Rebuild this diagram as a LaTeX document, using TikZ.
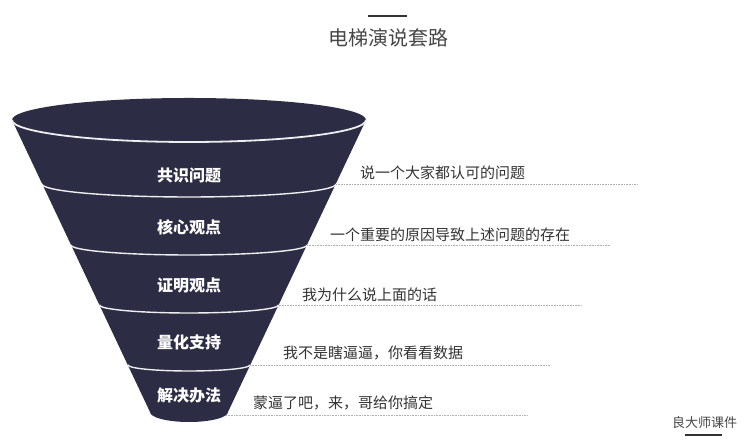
\documentclass[tikz,border=0pt]{standalone}
\usepackage{fontspec}
\setmainfont{Noto Sans CJK SC}
\usetikzlibrary{positioning}

\definecolor{funnelblue}{RGB}{44,45,68}
\definecolor{textgray}{RGB}{51,51,51}
\definecolor{titlegray}{RGB}{70,70,70}
\definecolor{rulegray}{RGB}{175,175,175}

\tikzstyle{layer}=[text=white,font=\fontsize{16}{18}\selectfont\bfseries]
\tikzstyle{note}=[anchor=west,inner sep=0pt,text=textgray,font=\fontsize{15}{18}\selectfont]
\tikzstyle{band}=[draw=white!92!funnelblue,line width=1.4pt]
\tikzstyle{guide}=[draw=rulegray,line width=0.6pt,densely dotted]

\begin{document}
\begin{tikzpicture}[x=1pt,y=1pt]
            \useasboundingbox (0,0) rectangle (744,446);
            % title
            \node[text=titlegray,font=\fontsize{20}{22}\selectfont] at (388,408) (title) {电梯演说套路};
            \coordinate (tl) at (368,430);
            \coordinate (tr) at (407,430);
            \draw[textgray,line width=2.4pt] (tl) -- (tr);
            % funnel body
            \fill[funnelblue] (12,326) -- (150,34) arc[start angle=180,end angle=360,x radius=39,y radius=10]
                -- (366,326) arc[start angle=0,end angle=180,x radius=177,y radius=22] -- cycle;
            % band edges
            \coordinate (r0) at (366,326);
            \coordinate (l1) at (42,262);   \coordinate (r1) at (336,262);
            \coordinate (l2) at (71,201);   \coordinate (r2) at (307,201);
            \coordinate (l3) at (99.5,141); \coordinate (r3) at (278.5,141);
            \coordinate (l4) at (128,81);   \coordinate (r4) at (250,81);
            \coordinate (r5) at (226,31);
            \draw[band,line width=1.8pt] (12,326) arc[start angle=180,end angle=360,x radius=177,y radius=22];
            \draw[band] (l1) arc[start angle=180,end angle=360,x radius=147,y radius=13];
            \draw[band] (l2) arc[start angle=180,end angle=360,x radius=118,y radius=10];
            \draw[band] (l3) arc[start angle=180,end angle=360,x radius=89.5,y radius=8];
            \draw[band] (l4) arc[start angle=180,end angle=360,x radius=61,y radius=6];
            % layer names
            \node[layer] at (189,271) (L1) {共识问题};
            \node[layer] at (189,219) (L2) {核心观点};
            \node[layer] at (189,161) (L3) {证明观点};
            \node[layer] at (189,104) (L4) {量化支持};
            \node[layer] at (189,51) (L5) {解决办法};
            % notes
            \node[note] at (360,273) (N1) {说一个大家都认可的问题};
            \node[note] at (330,211) (N2) {一个重要的原因导致上述问题的存在};
            \node[note] at (302,151) (N3) {我为什么说上面的话};
            \node[note] at (283,93) (N4) {我不是瞎逼逼，你看看数据};
            \node[note] at (253,43) (N5) {蒙逼了吧，来，哥给你搞定};
            \coordinate (e1) at (638,262);
            \coordinate (e2) at (610,201);
            \coordinate (e3) at (582,141);
            \coordinate (e4) at (550,81);
            \coordinate (e5) at (528,31);
            \draw[guide] (r1) -- (e1);
            \draw[guide] (r2) -- (e2);
            \draw[guide] (r3) -- (e3);
            \draw[guide] (r4) -- (e4);
            \draw[guide] (r5) -- (e5);
            % credit
            \node[text=titlegray,font=\fontsize{13}{15}\selectfont] at (704.5,23) (credit) {良大师课件};
            \coordinate (cl) at (685,11);
            \coordinate (cr) at (722,11);
            \draw[textgray,line width=2.4pt] (cl) -- (cr);
        \end{tikzpicture}
\end{document}
